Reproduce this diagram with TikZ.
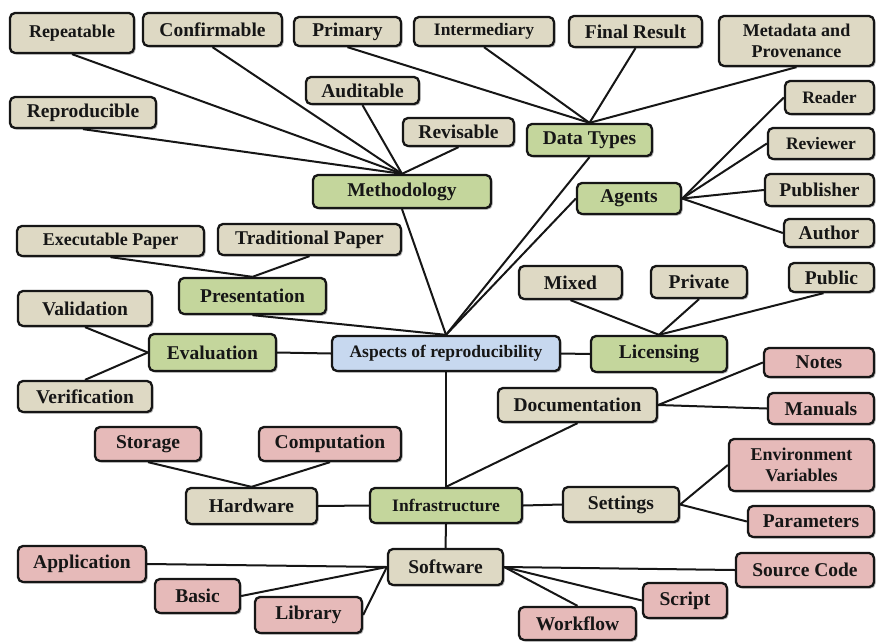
\documentclass[tikz,border=0pt]{standalone}
\usepackage{fontspec}
\setmainfont{Liberation Serif}
\usetikzlibrary{shadows,backgrounds}

\definecolor{tanfill}{RGB}{222,217,196}
\definecolor{greenfill}{RGB}{196,214,156}
\definecolor{pinkfill}{RGB}{230,186,185}
\definecolor{bluefill}{RGB}{199,216,239}
\definecolor{inkcol}{RGB}{22,22,22}

\tikzset{
  box/.style={draw=inkcol, line width=2.3pt, rounded corners=5pt, inner sep=0pt,
    align=center, text=inkcol, font=\bfseries\fontsize{19.5}{22}\selectfont,
    drop shadow={shadow xshift=1.6pt, shadow yshift=-1.6pt, opacity=0.3, fill=black}},
  tanbox/.style={box, fill=tanfill},
  greenbox/.style={box, fill=greenfill},
  pinkbox/.style={box, fill=pinkfill},
  bluebox/.style={box, fill=bluefill},
  sz/.style 2 args={minimum width=#1pt, minimum height=#2pt},
  smaller/.style={font=\bfseries\fontsize{17.5}{21.5}\selectfont},
  small/.style={font=\bfseries\fontsize{18}{21.5}\selectfont},
  link/.style={draw=inkcol, line width=2pt},
}

\begin{document}
\begin{tikzpicture}[x=1pt, y=-1pt]
\useasboundingbox (0,0) rectangle (877,642);

% central node
\node[bluebox, smaller, sz={228}{35}] (asp) at (446,353.5) {Aspects of reproducibility};

% methodology branch
\node[greenbox, sz={178}{33}] (meth) at (402,191.5) {Methodology};
\node[tanbox, small, sz={124}{40}] (repeat) at (72,33) {Repeatable};
\node[tanbox, sz={139}{33}] (confirm) at (212.5,29.5) {Confirmable};
\node[tanbox, sz={146}{31}] (reprod) at (83,112.5) {Reproducible};
\node[tanbox, sz={113}{27}] (audit) at (362.5,90.5) {Auditable};
\node[tanbox, sz={111}{28}] (revis) at (458.5,132) {Revisable};

% data types branch
\node[greenbox, sz={125}{32}] (dtypes) at (589.5,140) {Data Types};
\node[tanbox, sz={107}{29}] (primary) at (347.5,31.5) {Primary};
\node[tanbox, smaller, sz={140}{29}] (interm) at (484,31.5) {Intermediary};
\node[tanbox, sz={133}{31}] (final) at (635.5,31.5) {Final Result};
\node[tanbox, small, sz={155}{50}] (meta) at (796.5,41) {Metadata and\\Provenance};

% agents branch
\node[greenbox, sz={104}{31}] (agents) at (629,198.5) {Agents};
\node[tanbox, smaller, sz={89}{33}] (reader) at (829.5,97.5) {Reader};
\node[tanbox, smaller, sz={106}{31}] (reviewer) at (821,143.5) {Reviewer};
\node[tanbox, sz={109}{32}] (publisher) at (819.5,190) {Publisher};
\node[tanbox, sz={90}{28}] (author) at (829,233) {Author};

% presentation branch
\node[greenbox, sz={147}{36}] (pres) at (252.5,296) {Presentation};
\node[tanbox, small, sz={187}{30}] (execp) at (110.5,241) {Executable Paper};
\node[tanbox, sz={183}{31}] (tradp) at (309.5,239.5) {Traditional Paper};

% evaluation branch
\node[greenbox, sz={127}{37}] (eval) at (212.5,352.5) {Evaluation};
\node[tanbox, sz={134}{35}] (valid) at (85,308.5) {Validation};
\node[tanbox, sz={134}{31}] (verif) at (85,396.5) {Verification};

% licensing branch
\node[greenbox, sz={136}{36}] (lic) at (659,354) {Licensing};
\node[tanbox, sz={103}{33}] (mixed) at (570.5,282.5) {Mixed};
\node[tanbox, sz={96}{32}] (private) at (699,282) {Private};
\node[tanbox, sz={85}{29}] (public) at (831.5,277.5) {Public};

% infrastructure branch
\node[greenbox, smaller, sz={152}{35}] (infra) at (446,505.5) {Infrastructure};
\node[tanbox, sz={159}{34}] (doc) at (577.5,405) {Documentation};
\node[pinkbox, sz={110}{29}] (notes) at (819,362.5) {Notes};
\node[pinkbox, sz={106}{31}] (manuals) at (821,408.5) {Manuals};

\node[tanbox, sz={131}{36}] (hw) at (251.5,506) {Hardware};
\node[pinkbox, sz={106}{34}] (storage) at (148,444) {Storage};
\node[pinkbox, sz={142}{34}] (comput) at (330,444) {Computation};

\node[tanbox, sz={116}{35}] (settings) at (621,504.5) {Settings};
\node[pinkbox, small, sz={145}{52}] (envvar) at (801.5,465) {Environment\\Variables};
\node[pinkbox, sz={126}{31}] (params) at (811,521.5) {Parameters};

\node[tanbox, sz={115}{36}] (sw) at (445.5,567) {Software};
\node[pinkbox, sz={128}{36}] (appl) at (82,564) {Application};
\node[pinkbox, sz={85}{34}] (basic) at (197.5,596) {Basic};
\node[pinkbox, sz={107}{36}] (library) at (308.5,615) {Library};
\node[pinkbox, sz={138}{34}] (srccode) at (805,570) {Source Code};
\node[pinkbox, sz={84}{35}] (script) at (685,600.5) {Script};
\node[pinkbox, sz={117}{33}] (workflow) at (577.5,623.5) {Workflow};

% connectors, kept beneath the boxes
\begin{pgfonlayer}{background}
  % to the centre
  \draw[link] (meth.south) -- (asp.north);
  \draw[link] (dtypes.south) -- (asp.north);
  \draw[link] (agents.west) -- (asp.north);
  \draw[link] (pres.south) -- (asp.north);
  \draw[link] (eval.east) -- (asp.west);
  \draw[link] (asp.east) -- (lic.west);
  \draw[link] (asp.south) -- (infra.north);

  % methodology
  \foreach \n in {repeat,confirm,reprod,audit,revis}
    \draw[link] (\n.south) -- (meth.north);
  % data types
  \foreach \n in {primary,interm,final,meta}
    \draw[link] (\n.south) -- (dtypes.north);
  % agents
  \foreach \n in {reader,reviewer,publisher,author}
    \draw[link] (agents.east) -- (\n.west);
  % presentation
  \draw[link] (execp.south) -- (pres.north);
  \draw[link] (tradp.south) -- (pres.north);
  % evaluation
  \draw[link] (valid.south) -- (eval.west);
  \draw[link] (verif.north) -- (eval.west);
  % licensing
  \draw[link] (mixed.south) -- (lic.north);
  \draw[link] (private.south) -- (lic.north);
  \draw[link] ([xshift=-8pt]public.south) -- (lic.north);

  % infrastructure
  \draw[link] (doc.south) -- (infra.north);
  \draw[link] (doc.east) -- (notes.west);
  \draw[link] (doc.east) -- (manuals.west);
  \draw[link] (hw.east) -- (infra.west);
  \draw[link] (infra.east) -- (settings.west);
  \draw[link] (infra.south) -- (sw.north);
  \draw[link] (storage.south) -- (hw.north);
  \draw[link] (comput.south) -- (hw.north);
  \draw[link] (settings.east) -- (envvar.west);
  \draw[link] (settings.east) -- (params.west);
  % software
  \draw[link] (appl.east) -- (sw.west);
  \draw[link] (basic.east) -- (sw.west);
  \draw[link] (library.east) -- (sw.west);
  \draw[link] (sw.east) -- (srccode.west);
  \draw[link] (sw.east) -- (script.west);
  \draw[link] (sw.east) -- (workflow.north);
\end{pgfonlayer}
\end{tikzpicture}
\end{document}
